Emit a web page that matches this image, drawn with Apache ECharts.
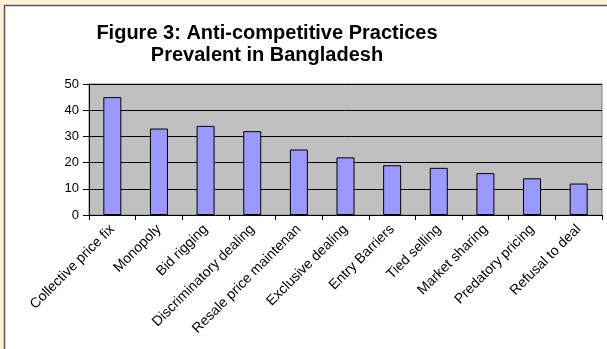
<!DOCTYPE html>
<html>
<head>
<meta charset="utf-8">
<script src="https://cdn.jsdelivr.net/npm/echarts@6/dist/echarts.min.js"></script>
<style>
  html, body { margin: 0; padding: 0; background: #FEF1DC; }
  #chart { width: 607px; height: 349px; }
</style>
</head>
<body>
<div id="chart"></div>
<script>
// Practice categories and how often each was reported
const categories = [
  'Collective price fix', 'Monopoly', 'Bid rigging', 'Discriminatory dealing',
  'Resale price maintenan', 'Exclusive dealing', 'Entry Barriers', 'Tied selling',
  'Market sharing', 'Predatory pricing', 'Refusal to deal'
];
const values = [45, 33, 34, 32, 25, 22, 19, 18, 16, 14, 12];
const yTicks = { min: 0, max: 50, interval: 10 };
const titleLines = ['Figure 3: Anti-competitive Practices', 'Prevalent in Bangladesh'];

const font = '"Liberation Sans", Arial, sans-serif';
const chart = echarts.init(document.getElementById('chart'), null, { renderer: 'canvas' });

chart.setOption({
  backgroundColor: '#FEF1DC',
  animation: false,
  graphic: [{
    type: 'rect',
    z: -10,
    shape: { x: 4.5, y: 5.5, width: 620, height: 360 },
    style: { fill: '#FFFFFF', stroke: '#555555', lineWidth: 1.5 }
  }],
  title: {
    text: titleLines.join('\n'),
    left: 262,
    top: 17,
    textAlign: 'center',
    textStyle: {
      fontFamily: font, fontSize: 20, fontWeight: 'bold',
      color: '#000', lineHeight: 22
    }
  },
  grid: {
    left: 89, top: 84, right: 5, bottom: 134,
    show: true, backgroundColor: '#C0C0C0', borderColor: '#808080', borderWidth: 1
  },
  xAxis: {
    type: 'category',
    data: categories,
    boundaryGap: true,
    axisLine: { lineStyle: { color: '#000', width: 1 } },
    axisTick: { show: true, alignWithLabel: false, length: 5, lineStyle: { color: '#000' } },
    axisLabel: {
      rotate: 45, interval: 0, margin: 12,
      fontFamily: font, fontSize: 14, color: '#000'
    },
    splitLine: { show: false }
  },
  yAxis: {
    type: 'value',
    min: yTicks.min, max: yTicks.max, interval: yTicks.interval,
    axisLine: { show: true, lineStyle: { color: '#000', width: 1 } },
    axisTick: { show: true, length: 6, lineStyle: { color: '#000' } },
    axisLabel: { fontFamily: font, fontSize: 13, color: '#000', margin: 10 },
    splitLine: { show: true, lineStyle: { color: '#000', width: 1 } }
  },
  series: [{
    type: 'bar',
    data: values,
    barWidth: 18,
    itemStyle: { color: '#9999FF', borderColor: '#000', borderWidth: 1 }
  }]
});
</script>
</body>
</html>
